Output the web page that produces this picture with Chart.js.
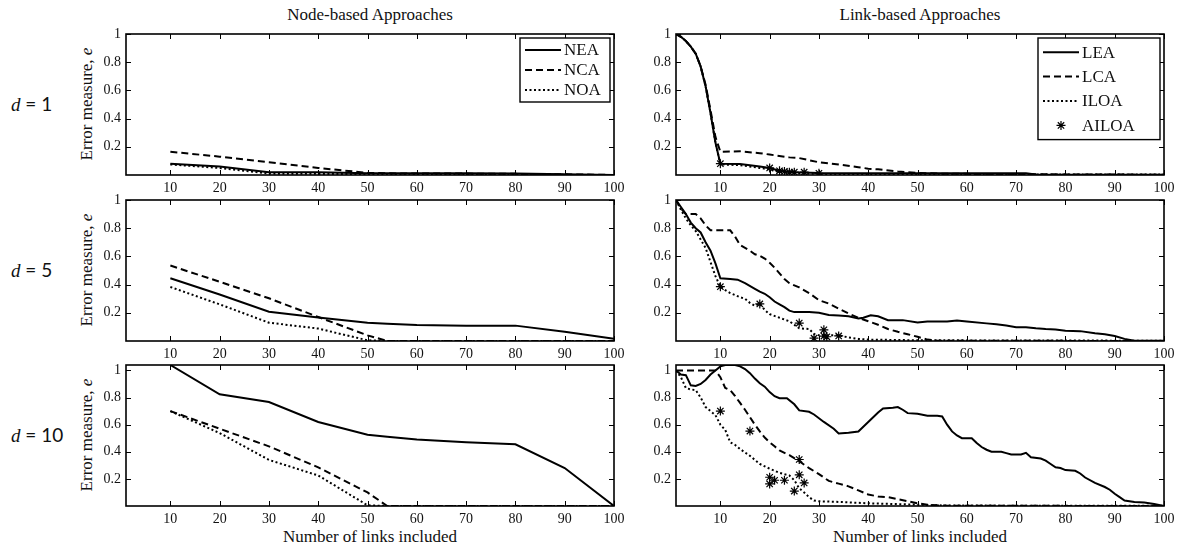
<!DOCTYPE html>
<html>
<head>
<meta charset="utf-8">
<script src="https://cdn.jsdelivr.net/npm/chart.js@4.4.1/dist/chart.umd.min.js"></script>
<style>
  body { margin: 0; width: 1181px; height: 548px; background: #fff; position: relative; overflow: hidden; font-family: "Liberation Serif", serif; color: #111; }
  canvas { position: absolute; }
  .lbl { position: absolute; white-space: nowrap; transform: translate(-50%, -50%); }
  .head { font-size: 17px; }
  .dlab { font-family: Lato, "Noto Sans", sans-serif; font-size: 19px; transform: translate(0, -50%); }
  .dlab i { font-family: "Liberation Serif", serif; }
  .ytitle { font-size: 17px; transform: translate(-50%, -50%) rotate(-90deg); }
</style>
</head>
<body>
<div class="lbl head" style="left:370px; top:15px">Node-based Approaches</div>
<div class="lbl head" style="left:920px; top:15px">Link-based Approaches</div>
<div class="lbl head" style="left:370px; top:537px">Number of links included</div>
<div class="lbl head" style="left:920px; top:537px">Number of links included</div>
<div class="lbl dlab" style="left:11px; top:104px"><i>d</i> = 1</div>
<div class="lbl dlab" style="left:11px; top:270px"><i>d</i> = 5</div>
<div class="lbl dlab" style="left:11px; top:435px"><i>d</i> = 10</div>
<div class="lbl ytitle" style="left:87px; top:104px">Error measure, <i>e</i></div>
<div class="lbl ytitle" style="left:87px; top:270px">Error measure, <i>e</i></div>
<div class="lbl ytitle" style="left:87px; top:435px">Error measure, <i>e</i></div>

<script>
// --- DATA ---
const xTicks = [10, 20, 30, 40, 50, 60, 70, 80, 90, 100];
const yTicks = [0.2, 0.4, 0.6, 0.8, 1];

// node-based: values at nodeX
const nodeX = [10, 20, 30, 40, 50, 54, 60, 70, 80, 90, 100];
const neaD1 = [0.08, 0.06, 0.02, 0.02, 0.012, 0.012, 0.012, 0.012, 0.01, 0.005, 0];
const ncaD1 = [0.165, 0.13, 0.09, 0.05, 0.015, 0.012, 0.01, 0.01, 0.008, 0.005, 0];
const noaD1 = [0.075, 0.05, 0.01, 0.008, 0.005, 0.004, 0.003, 0.002, 0.002, 0.001, 0];
const neaD5 = [0.445, 0.33, 0.208, 0.166, 0.13, 0.122, 0.114, 0.109, 0.109, 0.066, 0.015];
const ncaD5 = [0.535, 0.42, 0.303, 0.17, 0.04, 0, 0, 0, 0, 0, 0];
const noaD5 = [0.383, 0.26, 0.13, 0.088, 0.005, 0, 0, 0, 0, 0, 0];
const neaD10 = [1.04, 0.824, 0.767, 0.62, 0.525, 0.51, 0.49, 0.47, 0.455, 0.28, 0];
const ncaD10 = [0.70, 0.57, 0.44, 0.285, 0.10, 0, 0, 0, 0, 0, 0];
const noaD10 = [0.70, 0.538, 0.34, 0.225, 0.005, 0, 0, 0, 0, 0, 0];

// link-based: [links, error] readings
const leaD1 = [[1,1],[2,0.98],[3,0.95],[4,0.91],[5,0.86],[6,0.77],[7,0.63],[8,0.44],[9,0.23],[10,0.08],[14,0.078],[18,0.06],[20,0.05],[22,0.03],[25,0.02],[30,0.015],[50,0.013],[72,0.012],[74,0.004],[100,0.002]];
const lcaD1 = [[1,1],[2,0.98],[3,0.95],[4,0.91],[5,0.86],[6,0.77],[7,0.64],[8,0.46],[9,0.27],[10,0.165],[14,0.168],[18,0.155],[20,0.145],[24,0.125],[26,0.12],[28,0.105],[30,0.09],[34,0.075],[38,0.055],[40,0.045],[42,0.04],[46,0.025],[50,0.015],[54,0.01],[60,0.008],[70,0.006],[80,0.004],[100,0.002]];
const iloaD1 = [[1,1],[2,0.98],[3,0.95],[4,0.91],[5,0.86],[6,0.77],[7,0.63],[8,0.44],[9,0.23],[10,0.075],[14,0.07],[18,0.05],[20,0.04],[22,0.02],[26,0.01],[30,0.008],[40,0.005],[100,0.003]];
const ailoaD1 = [[10,0.08],[20,0.05],[22,0.03],[23,0.025],[24,0.02],[25,0.02],[27,0.02],[30,0.012]];

const leaD5 = [[1,1],[2,0.95],[3,0.9],[4,0.84],[5,0.8],[6,0.77],[7,0.7],[8,0.64],[9,0.55],[10,0.445],[12,0.44],[13.5,0.435],[15,0.41],[17,0.37],[18,0.35],[19,0.335],[20,0.31],[21,0.28],[22,0.26],[23,0.24],[24,0.215],[25,0.205],[28,0.205],[30,0.2],[32,0.185],[34,0.18],[36,0.175],[38,0.16],[39,0.165],[40.5,0.182],[42,0.175],[44,0.148],[47,0.148],[50,0.132],[52,0.138],[56,0.138],[58,0.145],[60,0.138],[64,0.125],[66,0.118],[68,0.11],[70,0.098],[72,0.098],[74,0.09],[76,0.085],[78,0.082],[80,0.072],[83,0.07],[86,0.055],[88,0.048],[90,0.035],[92,0.015],[94,0.002],[100,0.002]];
const lcaD5 = [[1,1],[2,0.94],[3,0.9],[5,0.9],[6,0.87],[7,0.82],[8,0.785],[10,0.785],[12,0.785],[13,0.74],[14,0.68],[16,0.64],[17,0.615],[18,0.605],[19,0.585],[20,0.555],[21,0.52],[22,0.48],[23,0.44],[24,0.41],[26,0.38],[28,0.34],[30,0.29],[32,0.265],[34,0.23],[36,0.195],[38,0.165],[40,0.14],[42,0.115],[44,0.085],[46,0.065],[48,0.048],[50,0.03],[52,0.01],[54,0.002],[100,0]];
const iloaD5 = [[1,1],[2,0.93],[3,0.87],[4,0.82],[5,0.78],[6,0.72],[7,0.66],[8,0.56],[9,0.46],[10,0.385],[11,0.36],[12,0.34],[14,0.31],[15,0.3],[16,0.27],[17,0.25],[18,0.265],[19,0.22],[20,0.19],[22,0.165],[24,0.14],[25,0.115],[26,0.09],[28,0.085],[29,0.05],[30,0.04],[32,0.04],[34,0.04],[36,0.025],[38,0.015],[40,0.01],[50,0.005],[100,0.002]];
const ailoaD5 = [[10,0.385],[18,0.263],[26,0.127],[29,0.02],[31,0.079],[31,0.035],[31.6,0.03],[34,0.036]];

const leaD10 = [[1,1],[2,0.97],[3,0.965],[4,0.89],[5,0.885],[6,0.9],[7,0.93],[8,0.97],[9,1.0],[10,1.03],[11,1.04],[13,1.04],[14,1.03],[15,1.01],[16,0.98],[17,0.94],[18,0.905],[19,0.88],[20,0.84],[21,0.81],[22,0.795],[23.5,0.795],[25,0.75],[26,0.705],[28,0.695],[29,0.675],[31,0.62],[33,0.57],[34,0.535],[36,0.54],[38,0.55],[39,0.585],[40,0.62],[42,0.69],[43,0.72],[45,0.725],[46,0.73],[47,0.71],[48,0.685],[50,0.68],[52,0.665],[54,0.665],[55,0.66],[56,0.6],[57,0.55],[58,0.52],[59,0.5],[61,0.5],[62,0.465],[63,0.435],[64,0.415],[65,0.4],[67,0.4],[68,0.39],[69,0.38],[71,0.38],[72,0.392],[73,0.36],[75,0.35],[76,0.335],[77,0.31],[78,0.285],[79,0.28],[80,0.265],[82,0.26],[83,0.24],[84,0.21],[86,0.17],[88,0.14],[89,0.12],[90,0.09],[91,0.065],[92,0.04],[94,0.03],[96,0.025],[98,0.015],[100,0]];
const lcaD10 = [[1,1],[8,1],[9,1],[10,0.95],[11,0.87],[12,0.855],[13,0.81],[14,0.76],[15,0.71],[16,0.655],[17,0.6],[18,0.55],[19,0.505],[20,0.47],[21,0.44],[22,0.41],[24,0.375],[26,0.33],[28,0.28],[30,0.235],[32,0.185],[34,0.165],[36,0.145],[38,0.115],[40,0.085],[42,0.07],[44,0.065],[46,0.05],[48,0.035],[50,0.02],[52,0.01],[54,0.005],[56,0.002],[100,0]];
const iloaD10 = [[1,1],[2,0.95],[3,0.87],[4,0.86],[5,0.855],[6,0.8],[7,0.73],[8,0.7],[9,0.67],[10,0.6],[11,0.56],[12,0.47],[13,0.45],[14,0.42],[16,0.37],[18,0.31],[20,0.275],[22,0.245],[24,0.225],[25,0.19],[26,0.13],[27,0.1],[28,0.065],[29,0.04],[30,0.035],[34,0.03],[40,0.02],[50,0.01],[56,0.003],[100,0.002]];
const ailoaD10 = [[10,0.70],[16,0.553],[20,0.212],[20,0.163],[21,0.19],[23,0.19],[25,0.11],[26,0.343],[26,0.23],[27,0.17]];

// --- LAYOUT ---
const COLS = [126, 676], ROWS = [34, 200, 365];
const PW = 488, PH = 141;
const YW = 45, PADT = 15, PADR = 22, XH = 24;
const yMaxByRow = [1, 1, 1.04];
const font = { family: '"Liberation Serif", serif', size: 14 };
const INK = '#111';

const SOLID = [], DASH = [7, 4], DOT = [2, 2.5];

function nodeSet(label, vals, dash) {
  return { label, data: nodeX.map((x, i) => ({ x, y: vals[i] })), borderColor: '#000', borderWidth: 2, borderDash: dash, pointRadius: 0, fill: false };
}
function linkSet(label, pts, dash) {
  return { label, data: pts.map(p => ({ x: p[0], y: p[1] })), borderColor: '#000', borderWidth: 2, borderDash: dash, pointRadius: 0, fill: false };
}
function starSet(label, pts) {
  return { label, data: pts.map(p => ({ x: p[0], y: p[1] })), showLine: false, pointStyle: 'star', pointRadius: 4.5, borderColor: '#000', backgroundColor: '#000', pointBorderWidth: 1.2, borderWidth: 1.2 };
}

// inward ticks on all sides, box frame, in-plot legend
const frame = {
  id: 'frame',
  afterDatasetsDraw(chart, args, opts) {
    const { ctx, chartArea: a, scales: { x, y } } = chart;
    ctx.save();
    ctx.strokeStyle = '#000';
    ctx.lineWidth = 1;
    ctx.setLineDash([]);
    ctx.beginPath();
    x.ticks.forEach(t => {
      const px = Math.round(x.getPixelForValue(t.value)) + 0.5;
      ctx.moveTo(px, a.bottom); ctx.lineTo(px, a.bottom - 5);
      ctx.moveTo(px, a.top); ctx.lineTo(px, a.top + 5);
    });
    y.ticks.forEach(t => {
      const py = Math.round(y.getPixelForValue(t.value)) + 0.5;
      ctx.moveTo(a.left, py); ctx.lineTo(a.left + 5, py);
      ctx.moveTo(a.right, py); ctx.lineTo(a.right - 5, py);
    });
    ctx.stroke();
    ctx.lineWidth = 1.6;
    ctx.strokeRect(a.left, a.top, a.right - a.left, a.bottom - a.top);

    if (opts && opts.show) {
      const sets = chart.data.datasets;
      const rowH = opts.rowH;
      const bw = opts.width, bh = sets.length * rowH + 4;
      const bx = a.right - 4 - bw, by = a.top + 4;
      ctx.fillStyle = '#fff';
      ctx.fillRect(bx, by, bw, bh);
      ctx.lineWidth = 1.4;
      ctx.strokeRect(bx, by, bw, bh);
      ctx.font = '17px "Liberation Serif", serif';
      ctx.textBaseline = 'middle';
      sets.forEach((ds, i) => {
        const cy = by + 2 + rowH * (i + 0.5);
        const x0 = bx + 5, x1 = bx + 41;
        if (ds.showLine === false) {
          ctx.lineWidth = 1.2;
          Chart.helpers.drawPoint(ctx, { pointStyle: 'star', radius: 4.5, borderWidth: 1.2 }, (x0 + x1) / 2, cy);
        } else {
          ctx.lineWidth = 2;
          ctx.setLineDash(ds.borderDash);
          ctx.beginPath(); ctx.moveTo(x0, cy); ctx.lineTo(x1, cy); ctx.stroke();
          ctx.setLineDash([]);
        }
        ctx.fillStyle = INK;
        ctx.fillText(ds.label, bx + 44, cy + 1);
      });
    }
    ctx.restore();
  }
};

const panels = [
  { row: 0, col: 0, sets: [nodeSet('NEA', neaD1, SOLID), nodeSet('NCA', ncaD1, DASH), nodeSet('NOA', noaD1, DOT)], legend: 90, rowH: 20 },
  { row: 0, col: 1, sets: [linkSet('LEA', leaD1, SOLID), linkSet('LCA', lcaD1, DASH), linkSet('ILOA', iloaD1, DOT), starSet('AILOA', ailoaD1)], legend: 122, rowH: 24.4 },
  { row: 1, col: 0, sets: [nodeSet('NEA', neaD5, SOLID), nodeSet('NCA', ncaD5, DASH), nodeSet('NOA', noaD5, DOT)] },
  { row: 1, col: 1, sets: [linkSet('LEA', leaD5, SOLID), linkSet('LCA', lcaD5, DASH), linkSet('ILOA', iloaD5, DOT), starSet('AILOA', ailoaD5)] },
  { row: 2, col: 0, sets: [nodeSet('NEA', neaD10, SOLID), nodeSet('NCA', ncaD10, DASH), nodeSet('NOA', noaD10, DOT)] },
  { row: 2, col: 1, sets: [linkSet('LEA', leaD10, SOLID), linkSet('LCA', lcaD10, DASH), linkSet('ILOA', iloaD10, DOT), starSet('AILOA', ailoaD10)] }
];

panels.forEach(p => {
  const c = document.createElement('canvas');
  const w = YW + PW + PADR, h = PADT + PH + XH;
  c.width = w; c.height = h;
  c.style.left = (COLS[p.col] - YW) + 'px';
  c.style.top = (ROWS[p.row] - PADT) + 'px';
  c.style.width = w + 'px'; c.style.height = h + 'px';
  document.body.appendChild(c);

  new Chart(c, {
    type: 'line',
    data: { datasets: p.sets },
    options: {
      responsive: false,
      animation: false,
      devicePixelRatio: 1,
      layout: { padding: { top: PADT, right: PADR, left: 0, bottom: 0 } },
      elements: { line: { tension: 0 } },
      plugins: {
        legend: { display: false },
        tooltip: { enabled: false },
        frame: { show: !!p.legend, width: p.legend || 0, rowH: p.rowH || 24 }
      },
      scales: {
        x: {
          type: 'linear', min: 1, max: 100,
          afterBuildTicks: s => { s.ticks = xTicks.map(v => ({ value: v })); },
          afterFit: s => { s.height = XH; },
          grid: { display: false, drawTicks: false },
          border: { display: false },
          ticks: { padding: 5, font, color: INK, maxRotation: 0, autoSkip: false }
        },
        y: {
          min: 0, max: yMaxByRow[p.row],
          afterBuildTicks: s => { s.ticks = yTicks.map(v => ({ value: v })); },
          afterFit: s => { s.width = YW; },
          grid: { display: false, drawTicks: false },
          border: { display: false },
          ticks: { padding: 5, font, color: INK, callback: v => String(v) }
        }
      }
    },
    plugins: [frame]
  });
});
</script>
</body>
</html>
